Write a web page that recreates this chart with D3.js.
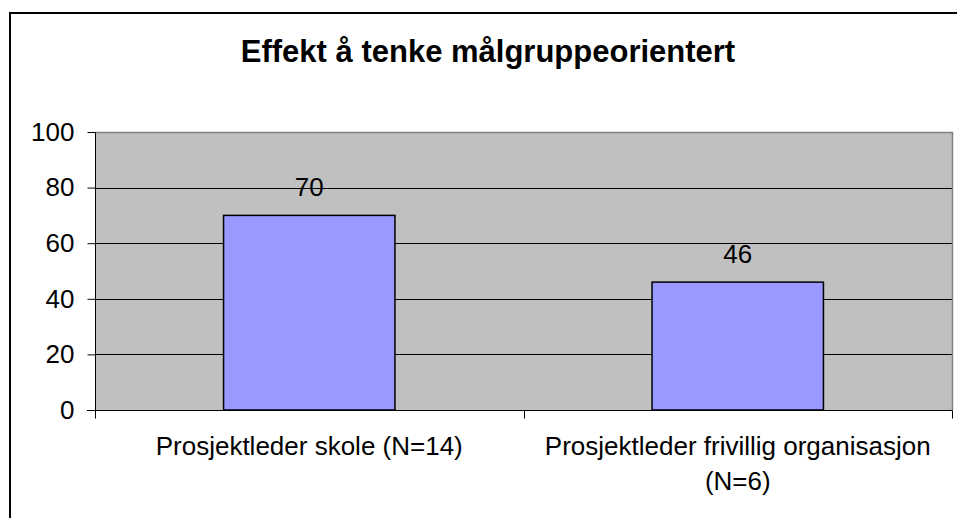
<!DOCTYPE html>
<html>
<head>
<meta charset="utf-8">
<script src="https://cdn.jsdelivr.net/npm/d3@7"></script>
<style>
  html, body { margin: 0; padding: 0; background: #fff; }
  svg { display: block; font-family: "Liberation Sans", Arial, sans-serif; }
</style>
</head>
<body>
<svg id="chart" width="957" height="518"></svg>
<script>
const title = "Effekt å tenke målgruppeorientert";
const categories = [
  ["Prosjektleder skole (N=14)"],
  ["Prosjektleder frivillig organisasjon", "(N=6)"]
];
const values = [70, 46];
const yTicks = [0, 20, 40, 60, 80, 100];

const svg = d3.select("#chart");
const plot = { left: 95, right: 952, top: 132, bottom: 410 };
const fs = 26;

// outer frame
svg.append("rect")
  .attr("x", 10).attr("y", 13)
  .attr("width", 1000).attr("height", 600)
  .attr("fill", "#fff").attr("stroke", "#000").attr("stroke-width", 2);

// title
svg.append("text")
  .attr("x", 488).attr("y", 62)
  .attr("text-anchor", "middle")
  .attr("font-size", 31).attr("font-weight", "bold")
  .attr("fill", "#000")
  .text(title);

const keys = categories.map(c => c.join(" "));
const x = d3.scaleBand().domain(keys).range([plot.left, plot.right]).paddingInner(0).paddingOuter(0);
const y = d3.scaleLinear().domain([0, 100]).range([plot.bottom, plot.top]);

// plot background
svg.append("rect")
  .attr("x", plot.left).attr("y", plot.top)
  .attr("width", plot.right - plot.left).attr("height", plot.bottom - plot.top)
  .attr("fill", "#c0c0c0");

// gridlines
svg.append("g").selectAll("line")
  .data(yTicks.filter(t => t > 0 && t < 100))
  .join("line")
  .attr("x1", plot.left).attr("x2", plot.right)
  .attr("y1", d => Math.round(y(d)) + 0.5).attr("y2", d => Math.round(y(d)) + 0.5)
  .attr("stroke", "#000").attr("stroke-width", 1);

// plot border top/right (gray)
svg.append("path")
  .attr("d", `M${plot.left},${plot.top + 0.5}H${plot.right + 0.5}V${plot.bottom}`)
  .attr("fill", "none").attr("stroke", "#808080").attr("stroke-width", 1.5);

// bars
const barW = x.bandwidth() * 0.4;
svg.append("g").selectAll("rect")
  .data(values)
  .join("rect")
  .attr("x", (d, i) => x(keys[i]) + (x.bandwidth() - barW) / 2)
  .attr("y", d => y(d))
  .attr("width", barW)
  .attr("height", d => y(0) - y(d))
  .attr("fill", "#9999ff").attr("stroke", "#000").attr("stroke-width", 1.5);

// value labels
svg.append("g").selectAll("text")
  .data(values)
  .join("text")
  .attr("x", (d, i) => x(keys[i]) + x.bandwidth() / 2)
  .attr("y", d => y(d) - 19)
  .attr("text-anchor", "middle")
  .attr("font-size", fs).attr("fill", "#000")
  .text(d => d);

// y axis
const yAxis = d3.axisLeft(y).tickValues(yTicks).tickSize(8).tickPadding(13);
const gy = svg.append("g").attr("transform", `translate(${plot.left + 0.5},0)`).call(yAxis);
gy.select(".domain").attr("d", `M0,${plot.top}V${plot.bottom + 8}`).attr("stroke", "#000");
gy.selectAll(".tick line").attr("stroke", "#000");
gy.selectAll(".tick text").attr("font-size", fs).attr("font-family", "Liberation Sans, Arial, sans-serif").attr("fill", "#000");

// x axis
const gx = svg.append("g").attr("transform", `translate(0,${plot.bottom + 0.5})`);
gx.append("line").attr("x1", plot.left - 8).attr("x2", plot.right + 0.5).attr("y1", 0).attr("y2", 0).attr("stroke", "#000");
const bounds = keys.map(k => x(k)).concat([plot.right]);
gx.selectAll("line.cat").data(bounds).join("line").attr("class", "cat")
  .attr("x1", d => Math.round(d) + 0.5).attr("x2", d => Math.round(d) + 0.5)
  .attr("y1", 0).attr("y2", 8).attr("stroke", "#000");

const lbl = svg.append("g").selectAll("text")
  .data(categories)
  .join("text")
  .attr("text-anchor", "middle")
  .attr("font-size", fs).attr("fill", "#000")
  .attr("x", (d, i) => x(keys[i]) + x.bandwidth() / 2)
  .attr("y", 455);
lbl.selectAll("tspan")
  .data(d => d)
  .join("tspan")
  .attr("x", function() { return this.parentNode.getAttribute("x"); })
  .attr("dy", (d, i) => i === 0 ? 0 : 35)
  .text(d => d);
</script>
</body>
</html>
